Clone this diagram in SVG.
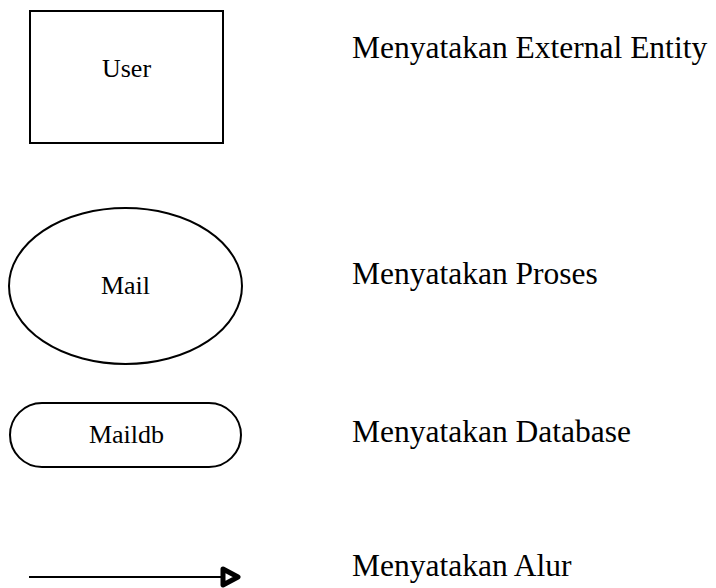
<svg xmlns="http://www.w3.org/2000/svg" width="716" height="588" viewBox="0 0 716 588">
  <style>
    .shape { fill: #ffffff; stroke: #000000; stroke-width: 2; }
    .label { font-family: "Liberation Serif", "Times New Roman", serif; font-size: 26px; fill: #000000; text-anchor: middle; }
    .desc { font-family: "Liberation Serif", "Times New Roman", serif; font-size: 31.5px; fill: #000000; }
    .flow { stroke: #000000; stroke-width: 2; fill: none; }
  </style>
  <defs>
    <!-- open triangular head with a heavy outline -->
    <marker id="openHead" viewBox="0 0 26 26" refX="21" refY="13" markerWidth="26" markerHeight="26" markerUnits="userSpaceOnUse" orient="auto">
      <path d="M5,5 L20,13 L5,21 Z" fill="#ffffff" stroke="#000000" stroke-width="5" stroke-linejoin="round"/>
    </marker>
  </defs>
  <rect width="716" height="588" fill="#ffffff"/>

  <g id="user">
    <rect class="shape" x="30" y="11" width="193" height="132"/>
    <text class="label" x="126.5" y="77">User</text>
  </g>

  <g id="mail">
    <ellipse class="shape" cx="125.5" cy="286" rx="116.5" ry="78"/>
    <text class="label" x="125.5" y="294">Mail</text>
  </g>

  <g id="maildb">
    <rect class="shape" x="10" y="403" width="231" height="64" rx="32" ry="32"/>
    <text class="label" x="126.5" y="443">Maildb</text>
  </g>

  <g id="connectors">
    <line class="flow" x1="29" y1="577" x2="239" y2="577" marker-end="url(#openHead)"/>
  </g>

  <g id="legend">
    <text class="desc" x="352" y="58">Menyatakan External Entity</text>
    <text class="desc" x="352" y="284">Menyatakan Proses</text>
    <text class="desc" x="352" y="442">Menyatakan Database</text>
    <text class="desc" x="352" y="576">Menyatakan Alur</text>
  </g>
</svg>
